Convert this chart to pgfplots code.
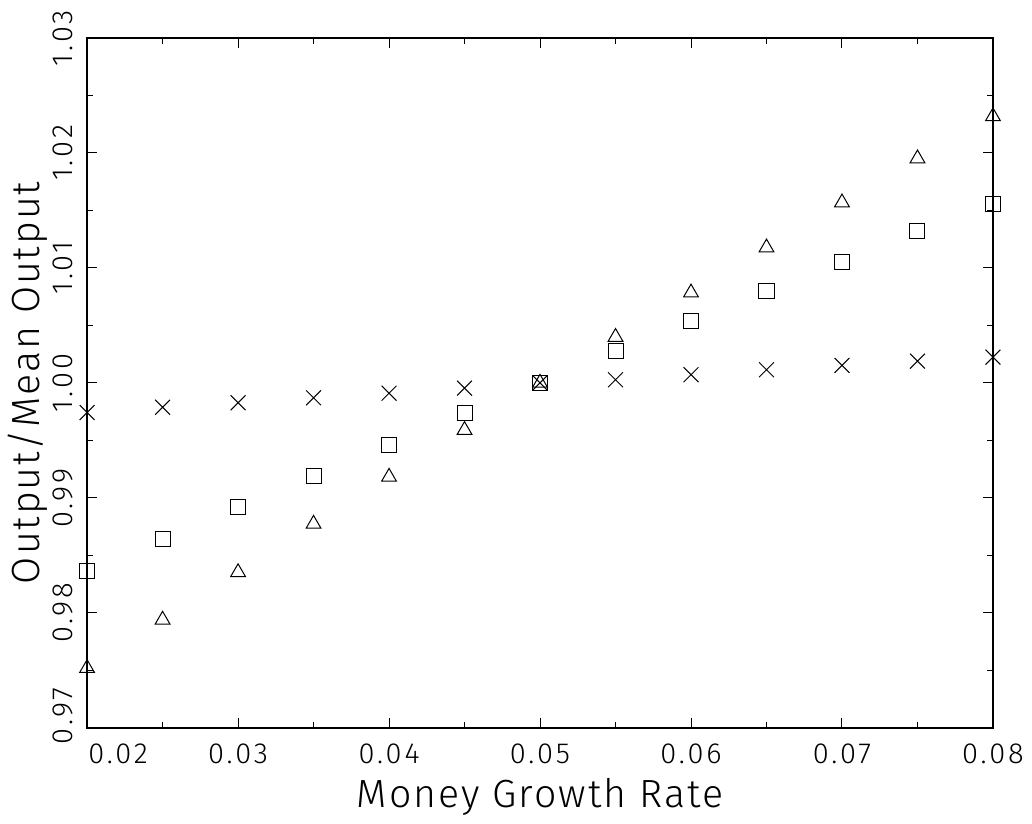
\documentclass[border=0pt]{standalone}
\usepackage{fontspec}
\setmainfont{Fira Sans Light}
\newfontfamily\tickfont{Fira Sans Light}[LetterSpace=10]
\newfontfamily\labelfont{Fira Sans Light}[LetterSpace=5]
\usepackage{pgfplots}
\pgfplotsset{compat=1.18}

\begin{document}
\begin{tikzpicture}
\begin{axis}[
    scale only axis,
    width=362pt, height=275.6pt,
    xmin=0.02, xmax=0.08,
    ymin=0.97, ymax=1.03,
    scaled x ticks=false,
    scaled y ticks=false,
    xtick={0.02,0.03,0.04,0.05,0.06,0.07,0.08},
    xticklabels={\hspace*{24.8pt}0.02,0.03,0.04,0.05,0.06,0.07,0.08},
    ytick={0.97,0.98,0.99,1.00,1.01,1.02,1.03},
    yticklabels={\hspace*{9.6pt}0.97,0.98,0.99,1.00,1.01,1.02,1.03},
    minor x tick num=1,
    minor y tick num=1,
    tick align=inside,
    major tick length=4pt,
    minor tick length=2.4pt,
    tick style={black, line width=0.4pt},
    axis line style={line width=0.8pt},
    tick label style={font=\tickfont\fontsize{11.6}{12}\selectfont},
    xticklabel style={inner sep=0pt, anchor=north},
    xticklabel shift=6.4pt,
    yticklabel style={rotate=90, inner sep=0pt, anchor=south},
    yticklabel shift=5.6pt,
    label style={font=\labelfont\fontsize{15.7}{17}\selectfont},
    xlabel={Money Growth Rate},
    ylabel={Output/Mean Output},
    xlabel style={at={(axis description cs:0.5,-0.116)}, anchor=base},
    ylabel style={at={(axis description cs:-0.052,0.5)}, anchor=base},
    clip=false,
]
% crosses
\addplot[only marks, mark=x, mark size=4.2pt, black, line width=0.4pt] coordinates {
(0.020,0.99742) (0.025,0.99788) (0.030,0.99827) (0.035,0.99870)
(0.040,0.99910) (0.045,0.99954) (0.050,1.00000) (0.055,1.00027)
(0.060,1.00071) (0.065,1.00114) (0.070,1.00152) (0.075,1.00189)
(0.080,1.00224)
};
% squares
\addplot[only marks, mark=square, mark size=3pt, black, line width=0.4pt] coordinates {
(0.020,0.98366) (0.025,0.98642) (0.030,0.98923) (0.035,0.99193)
(0.040,0.99463) (0.045,0.99736) (0.050,1.00000) (0.055,1.00276)
(0.060,1.00538) (0.065,1.00799) (0.070,1.01055) (0.075,1.01319)
(0.080,1.01560)
};
% triangles
\addplot[only marks, mark=triangle, mark size=3.4pt, black, line width=0.4pt] coordinates {
(0.020,0.97518) (0.025,0.97939) (0.030,0.98352) (0.035,0.98773)
(0.040,0.99182) (0.045,0.99589) (0.050,1.00000) (0.055,1.00399)
(0.060,1.00785) (0.065,1.01177) (0.070,1.01569) (0.075,1.01952)
(0.080,1.02318)
};
\end{axis}
\pgfresetboundingbox
\useasboundingbox (-34.8pt,-38.4pt) rectangle (377.6pt,290.8pt);
\end{tikzpicture}
\end{document}
